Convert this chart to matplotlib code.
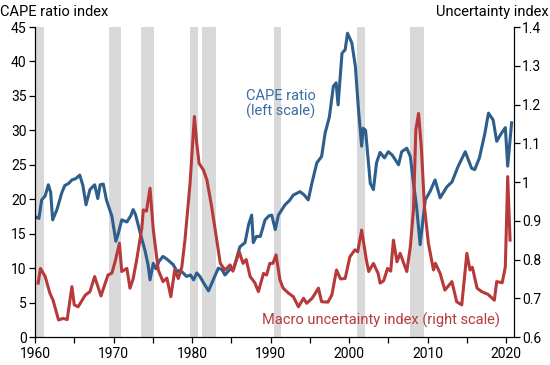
import matplotlib
matplotlib.use("Agg")
import matplotlib.pyplot as plt
from matplotlib.ticker import MultipleLocator, FuncFormatter

plt.rcParams["font.family"] = ["Roboto", "DejaVu Sans"]

# ── Data ────────────────────────────────────────────────────────────────────
cape_year = [1960.0, 1960.5, 1960.85, 1961.3, 1961.7, 1962.0, 1962.25, 1962.8,
             1963.4, 1963.8, 1964.3, 1964.7, 1965.2, 1965.7, 1966.1, 1966.5,
             1967.0, 1967.6, 1968.0, 1968.3, 1968.7, 1969.1, 1969.8, 1970.3,
             1970.6, 1971.05, 1971.7, 1972.2, 1972.5, 1972.8, 1973.4, 1974.0,
             1974.4, 1974.65, 1975.07, 1975.4, 1975.8, 1976.3, 1976.8, 1977.6,
             1978.1, 1978.5, 1979.3, 1979.8, 1980.2, 1980.6, 1981.0, 1981.4,
             1982.1, 1982.7, 1983.35, 1983.8, 1984.2, 1984.8, 1985.3, 1986.1,
             1986.75, 1987.2, 1987.6, 1987.8, 1988.2, 1988.7, 1989.3, 1989.8,
             1990.15, 1990.6, 1991.0, 1991.85, 1992.4, 1992.9, 1993.75, 1994.3,
             1994.8, 1995.3, 1995.9, 1996.5, 1996.95, 1997.5, 1998.0, 1998.35,
             1998.6, 1999.1, 1999.5, 1999.8, 2000.35, 2000.8, 2001.2, 2001.6,
             2001.8, 2002.1, 2002.7, 2003.1, 2003.5, 2003.95, 2004.5, 2005.0,
             2005.5, 2006.3, 2006.7, 2007.35, 2007.8, 2008.2, 2008.6, 2009.05,
             2009.7, 2010.3, 2010.95, 2011.6, 2012.45, 2013.1, 2013.9, 2014.8,
             2015.6, 2016.0, 2016.6, 2017.3, 2017.75, 2018.35, 2018.8, 2019.3,
             2019.9, 2020.2, 2020.7]
cape_value = [17.5, 17.2, 19.9, 20.5, 22.1, 21.0, 17.0, 18.5,
              20.9, 22.0, 22.3, 22.8, 23.0, 23.5, 22.0, 19.2,
              21.4, 22.1, 20.1, 22.1, 22.2, 19.9, 17.5, 13.9,
              15.0, 17.0, 16.7, 17.6, 18.5, 17.8, 15.1, 12.6,
              10.5, 8.3, 10.7, 9.9, 11.0, 11.7, 11.3, 10.5,
              9.5, 9.7, 8.8, 9.0, 8.3, 9.3, 8.8, 8.0,
              6.7, 8.3, 10.0, 9.8, 9.0, 9.8, 9.9, 13.1,
              13.7, 16.3, 17.7, 13.7, 14.6, 14.6, 17.0, 17.6,
              17.7, 15.6, 17.7, 19.2, 19.8, 20.6, 21.1, 20.6,
              19.9, 22.5, 25.3, 26.2, 29.6, 32.0, 36.4, 36.9,
              33.7, 41.2, 41.7, 44.1, 42.7, 39.3, 33.0, 27.7,
              30.3, 30.0, 22.3, 21.4, 25.3, 26.8, 26.0, 26.9,
              26.4, 25.0, 26.9, 27.4, 26.2, 22.3, 18.9, 13.4,
              19.9, 21.1, 22.8, 20.2, 21.8, 22.5, 24.8, 26.9,
              24.5, 24.3, 26.0, 29.6, 32.5, 31.5, 28.4, 29.4,
              30.4, 24.8, 31.1]

unc_year = [1960.4, 1960.7, 1961.3, 1961.9, 1962.3, 1963.0, 1963.6, 1964.1,
            1964.7, 1965.0, 1965.5, 1966.4, 1967.0, 1967.6, 1968.4, 1969.3,
            1969.8, 1970.2, 1970.75, 1971.05, 1971.7, 1972.1, 1972.5, 1972.95,
            1973.6, 1973.8, 1974.2, 1974.65, 1975.07, 1975.7, 1976.3, 1976.8,
            1977.3, 1977.8, 1978.25, 1978.7, 1979.1, 1979.75, 1980.3, 1980.6,
            1980.9, 1981.45, 1981.9, 1982.5, 1983.15, 1983.6, 1984.2, 1984.85,
            1985.2, 1986.0, 1986.5, 1986.9, 1987.4, 1988.0, 1988.45, 1989.1,
            1989.5, 1989.9, 1990.3, 1990.7, 1991.2, 1991.6, 1992.3, 1992.9,
            1993.55, 1994.2, 1994.6, 1995.3, 1996.1, 1996.5, 1997.3, 1997.8,
            1998.4, 1998.9, 1999.5, 2000.1, 2000.75, 2001.1, 2001.6, 2002.2,
            2002.5, 2003.1, 2003.7, 2003.95, 2004.4, 2004.9, 2005.3, 2005.65,
            2006.1, 2006.5, 2007.35, 2007.8, 2008.2, 2008.5, 2008.85, 2009.2,
            2009.6, 2010.1, 2010.75, 2011.0, 2011.6, 2012.2, 2013.1, 2013.7,
            2014.35, 2015.0, 2015.4, 2015.7, 2016.3, 2016.9, 2017.7, 2018.5,
            2018.8, 2019.5, 2019.9, 2020.2, 2020.5]
unc_value = [0.739, 0.777, 0.756, 0.713, 0.695, 0.644, 0.648, 0.645,
             0.730, 0.683, 0.678, 0.708, 0.717, 0.756, 0.706, 0.760,
             0.765, 0.794, 0.842, 0.769, 0.777, 0.726, 0.750, 0.799,
             0.880, 0.928, 0.925, 0.984, 0.876, 0.773, 0.743, 0.752,
             0.704, 0.773, 0.751, 0.781, 0.850, 0.997, 1.169, 1.100,
             1.048, 1.031, 1.005, 0.936, 0.850, 0.790, 0.773, 0.786,
             0.770, 0.820, 0.790, 0.800, 0.756, 0.740, 0.717, 0.764,
             0.760, 0.790, 0.790, 0.812, 0.747, 0.726, 0.713, 0.704,
             0.678, 0.700, 0.687, 0.700, 0.726, 0.691, 0.690, 0.708,
             0.773, 0.750, 0.751, 0.807, 0.825, 0.820, 0.876, 0.799,
             0.769, 0.790, 0.764, 0.739, 0.745, 0.777, 0.770, 0.850,
             0.794, 0.816, 0.769, 0.833, 0.928, 1.134, 1.177, 1.091,
             0.936, 0.842, 0.773, 0.790, 0.764, 0.721, 0.743, 0.691,
             0.683, 0.816, 0.773, 0.780, 0.726, 0.717, 0.710, 0.695,
             0.743, 0.740, 0.781, 1.014, 0.850]

recession_start = [1960.0, 1969.45, 1973.5, 1979.8, 1981.3, 1990.4, 2001.0, 2007.7]
recession_end   = [1961.1, 1970.9, 1975.2, 1980.7, 1983.0, 1991.3, 2002.0, 2009.6]

BLUE = "#2D5E8C"
RED = "#B8393A"
GRAY = "#D9D9D9"

# ── Figure ──────────────────────────────────────────────────────────────────
fig = plt.figure(figsize=(5.5, 3.65), dpi=100)
ax = fig.add_axes([0.0636, 0.0767, 0.8709, 0.8493])
ax2 = ax.twinx()

for s, e in zip(recession_start, recession_end):
    ax.axvspan(s, e, color=GRAY, lw=0, zorder=0)

ax.plot(cape_year, cape_value, color=BLUE, lw=2.2, zorder=3,
        solid_joinstyle="round")
ax2.plot(unc_year, unc_value, color=RED, lw=2.2, zorder=3,
         solid_joinstyle="round")

ax.set_xlim(1960, 2021)
ax.set_ylim(0, 45)
ax2.set_ylim(0.6, 1.4)

ax.xaxis.set_major_locator(MultipleLocator(10))
ax.xaxis.set_minor_locator(MultipleLocator(5))
ax.yaxis.set_major_locator(MultipleLocator(5))
ax2.yaxis.set_major_locator(MultipleLocator(0.1))
ax2.yaxis.set_major_formatter(FuncFormatter(lambda v, p: f"{v:g}"))

for a in (ax, ax2):
    a.spines["top"].set_visible(False)
    a.tick_params(which="both", direction="out", length=4, width=0.9,
                  labelsize=10, colors="black")
    a.patch.set_visible(False)
ax.tick_params(axis="x", pad=3)
ax.tick_params(axis="y", pad=2)
ax2.tick_params(axis="y", pad=2)

# ── Labels ──────────────────────────────────────────────────────────────────
fig.text(0.0, 1 - 12 / 365, "CAPE ratio index", fontsize=10.5,
         ha="left", va="center")
fig.text(0.998, 1 - 12 / 365, "Uncertainty index", fontsize=10.5,
         ha="right", va="center")

ax.text(1986.9, 33.8, "CAPE ratio\n(left scale)", color="#3A6EA5",
        fontsize=10.5, ha="left", va="center", linespacing=1.1, zorder=5)
ax.text(1988.9, 2.4, "Macro uncertainty index (right scale)", color=RED,
        fontsize=10.5, ha="left", va="center", zorder=5)

fig.savefig("out.png", dpi=100)
